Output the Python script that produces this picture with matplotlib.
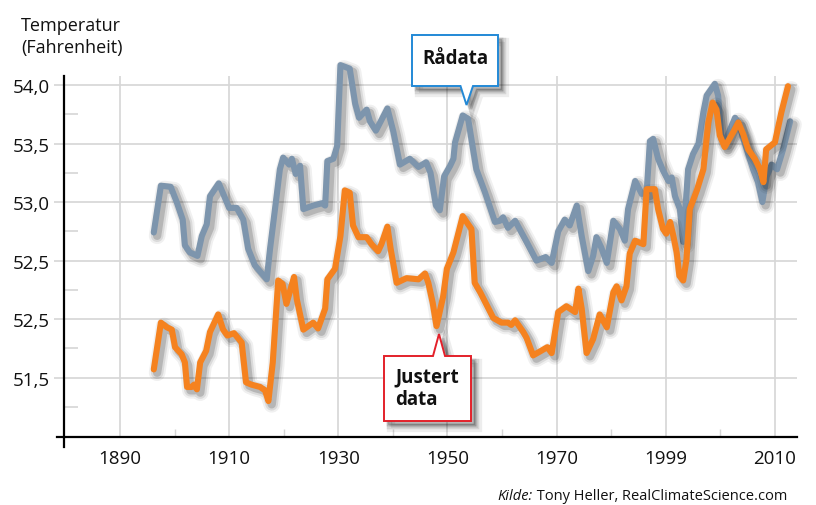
import matplotlib
matplotlib.use("Agg")
import matplotlib.pyplot as plt
import matplotlib.patheffects as pe
import matplotlib.transforms as mtransforms
from matplotlib.patches import Polygon

plt.rcParams['font.family'] = ['Open Sans', 'DejaVu Sans']

# ---------------- data ----------------
raw_years = [1896.2, 1897.5, 1899.3, 1900.4, 1901.5, 1901.9, 1902.8, 1904.2, 1905.0, 1905.9,
             1906.5, 1908.1, 1909.2, 1910.0, 1911.4, 1912.6, 1913.5, 1914.7, 1916.9, 1917.5,
             1918.7, 1919.3, 1919.9, 1921.0, 1921.5, 1922.2, 1923.0, 1923.6, 1925.4, 1927.0,
             1927.6, 1928.0, 1929.1, 1929.8, 1930.4, 1932.1, 1933.1, 1933.8, 1935.2, 1935.8,
             1936.9, 1939.0, 1940.1, 1941.3, 1943.1, 1944.7, 1946.1, 1946.9, 1947.9, 1948.6,
             1949.4, 1950.5, 1951.1, 1951.4, 1952.8, 1953.8, 1954.7, 1955.3, 1956.9, 1958.7,
             1959.6, 1960.2, 1961.1, 1962.4, 1964.5, 1966.3, 1968.0, 1969.1, 1970.3, 1971.5,
             1972.4, 1973.7, 1974.6, 1975.8, 1976.7, 1977.3, 1978.2, 1979.2, 1980.4, 1981.6,
             1982.5, 1983.1, 1984.4, 1985.6, 1986.5, 1987.1, 1987.7, 1988.6, 1989.5, 1990.5,
             1991.1, 1991.7, 1992.6, 1993.2, 1994.1, 1995.0, 1996.0, 1996.9, 1997.5, 1999.0,
             1999.6, 2000.2, 2000.8, 2002.7, 2003.3, 2005.1, 2006.0, 2006.9, 2007.7, 2008.5,
             2009.4, 2010.4, 2011.5, 2012.8]
raw_temps = [52.74, 53.14, 53.13, 53.00, 52.85, 52.63, 52.57, 52.54, 52.71, 52.81,
             53.05, 53.16, 53.04, 52.95, 52.95, 52.85, 52.60, 52.46, 52.34, 52.60,
             53.05, 53.28, 53.38, 53.32, 53.37, 53.24, 53.31, 52.94, 52.97, 52.99,
             52.97, 53.35, 53.37, 53.48, 54.17, 54.14, 53.84, 53.72, 53.79, 53.69,
             53.61, 53.80, 53.60, 53.32, 53.37, 53.30, 53.34, 53.25, 52.97, 52.93,
             53.22, 53.31, 53.37, 53.51, 53.74, 53.71, 53.45, 53.28, 53.08, 52.83,
             52.84, 52.87, 52.78, 52.84, 52.66, 52.50, 52.53, 52.48, 52.75, 52.85,
             52.80, 52.97, 52.71, 52.41, 52.54, 52.70, 52.61, 52.48, 52.84, 52.77,
             52.67, 52.94, 53.18, 53.07, 53.08, 53.52, 53.54, 53.37, 53.27, 53.18,
             53.21, 53.05, 52.94, 52.66, 53.28, 53.41, 53.50, 53.77, 53.91, 54.01,
             53.91, 53.54, 53.51, 53.72, 53.68, 53.41, 53.28, 53.17, 53.00, 53.22,
             53.32, 53.28, 53.45, 53.69]

adj_years = [1896.2, 1897.5, 1898.6, 1899.5, 1900.1, 1901.3, 1901.9, 1902.3, 1903.1, 1903.6,
             1904.1, 1904.7, 1905.8, 1906.5, 1908.0, 1908.9, 1909.7, 1910.9, 1912.3, 1913.1,
             1914.1, 1915.7, 1916.6, 1917.2, 1918.0, 1919.0, 1919.8, 1920.5, 1921.9, 1922.4,
             1923.6, 1925.4, 1926.3, 1927.6, 1928.0, 1929.4, 1930.4, 1931.2, 1932.1, 1932.7,
             1933.7, 1935.2, 1936.1, 1937.3, 1937.9, 1939.0, 1939.6, 1940.7, 1942.5, 1944.7,
             1945.9, 1946.5, 1947.3, 1948.0, 1949.2, 1949.9, 1951.1, 1952.8, 1953.8, 1954.4,
             1955.0, 1956.0, 1958.4, 1959.9, 1961.1, 1961.7, 1962.4, 1963.9, 1964.5, 1965.7,
             1967.2, 1968.3, 1969.1, 1970.3, 1971.8, 1973.4, 1974.0, 1974.6, 1975.5, 1976.7,
             1977.9, 1979.2, 1980.4, 1981.0, 1981.9, 1982.8, 1983.4, 1984.4, 1985.9, 1986.5,
             1988.0, 1988.6, 1989.5, 1990.1, 1990.8, 1991.4, 1992.0, 1992.5, 1993.2, 1993.8,
             1994.4, 1995.7, 1996.9, 1997.8, 1998.6, 1999.3, 1999.9, 2000.8, 2002.4, 2003.3,
             2004.2, 2005.1, 2006.3, 2007.3, 2007.9, 2008.4, 2010.0, 2011.2, 2012.4]
adj_temps = [51.57, 51.97, 51.93, 51.91, 51.76, 51.70, 51.63, 51.42, 51.42, 51.44,
             51.40, 51.63, 51.73, 51.89, 52.04, 51.91, 51.86, 51.88, 51.80, 51.46,
             51.44, 51.42, 51.39, 51.30, 51.63, 52.33, 52.30, 52.13, 52.36, 52.17,
             51.91, 51.97, 51.92, 52.09, 52.34, 52.43, 52.71, 53.10, 53.08, 52.80,
             52.70, 52.70, 52.64, 52.58, 52.64, 52.79, 52.60, 52.31, 52.35, 52.34,
             52.39, 52.31, 52.14, 51.94, 52.19, 52.43, 52.57, 52.88, 52.81, 52.77,
             52.31, 52.23, 52.01, 51.97, 51.97, 51.95, 51.99, 51.89, 51.84, 51.69,
             51.73, 51.76, 51.71, 52.06, 52.11, 52.06, 52.26, 52.09, 51.71, 51.83,
             52.04, 51.93, 52.23, 52.28, 52.16, 52.28, 52.56, 52.67, 52.64, 53.11,
             53.11, 52.94, 52.77, 52.73, 52.83, 52.71, 52.57, 52.37, 52.33, 52.51,
             52.94, 53.10, 53.28, 53.68, 53.85, 53.79, 53.57, 53.47, 53.60, 53.68,
             53.58, 53.45, 53.37, 53.28, 53.17, 53.45, 53.51, 53.77, 53.99]

x_tick_pos = [1890, 1910, 1930, 1950, 1970, 1990, 2010]
x_tick_labels = ["1890", "1910", "1930", "1950", "1970", "1999", "2010"]
y_tick_pos = [51.5, 52.0, 52.5, 53.0, 53.5, 54.0]
y_tick_labels = ["51,5", "52,5", "52,5", "53,0", "53,5", "54,0"]
y_label = "Temperatur\n(Fahrenheit)"
raw_label = "Rådata"
adj_label = "Justert\ndata"
source_italic = "Kilde:"
source_text = " Tony Heller, RealClimateScience.com"

# ---------------- figure ----------------
W, H = 816, 506
fig = plt.figure(figsize=(W / 100, H / 100), dpi=100)
fig.patch.set_facecolor("white")
ax = fig.add_axes([64 / W, 1 - 437.5 / H, (797 - 64) / W, (437.5 - 77) / H])
ax.set_xlim(1879.75, 2014.05)
ax.set_ylim(50.997, 54.077)

GRID = "#d6d6d6"
for s in ax.spines.values():
    s.set_visible(False)

ax.set_xticks(x_tick_pos)
ax.set_xticklabels(x_tick_labels, fontsize=13.5, color="#111111")
ax.set_xticks([p + 10 for p in x_tick_pos[:-1]], minor=True)
ax.set_yticks(y_tick_pos)
ax.set_yticklabels(y_tick_labels, fontsize=13.5, color="#111111")
ax.set_yticks([p - 0.25 for p in y_tick_pos], minor=True)

ax.tick_params(axis="x", which="major", length=0, pad=9)
ax.tick_params(axis="x", which="minor", direction="in", length=6, color=GRID, width=1)
ax.tick_params(axis="y", which="major", direction="out", length=7, color=GRID, width=1.2, pad=3)
ax.tick_params(axis="y", which="minor", direction="in", length=10, color=GRID, width=1.2)

ax.grid(True, which="major", color=GRID, linewidth=1.2, zorder=0)
ax.set_axisbelow(True)

# axis lines (crossing each other)
ax.plot([0, 0], [-0.028, 1], transform=ax.transAxes, color="black", lw=1.6, clip_on=False, zorder=5)
ax.plot([-0.0095, 1], [0, 0], transform=ax.transAxes, color="black", lw=1.6, clip_on=False, zorder=5)


def shadow_effects(offset=(2.4, -2.4)):
    return [
        pe.SimpleLineShadow(offset=offset, shadow_color="black", alpha=0.06, linewidth=12),
        pe.SimpleLineShadow(offset=offset, shadow_color="black", alpha=0.09, linewidth=9),
        pe.SimpleLineShadow(offset=offset, shadow_color="black", alpha=0.16, linewidth=6),
        pe.Normal(),
    ]


ax.plot(raw_years, raw_temps, color="#7d95ad", lw=4.4, solid_joinstyle="round",
        solid_capstyle="round", zorder=3, clip_on=False, path_effects=shadow_effects())
ax.plot(adj_years, adj_temps, color="#f5821f", lw=4.4, solid_joinstyle="round",
        solid_capstyle="round", zorder=4, clip_on=False, path_effects=shadow_effects())

# ---------------- texts ----------------
pix = mtransforms.Affine2D().scale(1 / W, -1 / H).translate(0, 1) + fig.transFigure

fig.text(21 / W, 1 - 17 / H, y_label, fontsize=13, color="#111111", va="top", ha="left",
         linespacing=1.3)

t_main = fig.text(787 / W, 1 - 497 / H, source_text, fontsize=10.5, color="#111111",
                  ha="right", va="center")
fig.canvas.draw()
bb = t_main.get_window_extent()
fig.text(bb.x0 / W, 1 - 497 / H, source_italic, fontsize=10.5, style="italic", color="#111111",
         ha="right", va="center")


def callout(x0, y0, x1, y1, tip, base_l, base_r, edge, below=True):
    if below:  # pointer at bottom edge
        pts = [(x0, y0), (x1, y0), (x1, y1), (base_r, y1), tip, (base_l, y1), (x0, y1)]
    else:  # pointer at top edge
        pts = [(x0, y0), (base_l, y0), tip, (base_r, y0), (x1, y0), (x1, y1), (x0, y1)]
    for k, (dx, a) in enumerate([(7, 0.07), (5.5, 0.10), (4, 0.14)]):
        sh = [(px + dx, py + dx) for px, py in pts]
        fig.add_artist(Polygon(sh, closed=True, transform=pix, facecolor="black", alpha=a,
                               edgecolor="black", linewidth=2 * (3 - k), zorder=10))
    fig.add_artist(Polygon(pts, closed=True, transform=pix, facecolor="white",
                           edgecolor=edge, linewidth=1.4, joinstyle="miter", zorder=11))


callout(412, 36, 498, 87, (466.5, 106), 460.5, 473, "#2389d6", below=True)
fig.text(455 / W, 1 - 59 / H, raw_label, fontsize=13.5, fontweight="bold", color="#111111",
         ha="center", va="center", zorder=12)

callout(384, 357, 471, 422, (439, 335), 433, 445, "#e3202a", below=False)
fig.text(395 / W, 1 - 389 / H, adj_label, fontsize=13.5, fontweight="bold", color="#111111",
         ha="left", va="center", zorder=12, linespacing=1.2)

fig.savefig("out.png", dpi=100, facecolor="white")
